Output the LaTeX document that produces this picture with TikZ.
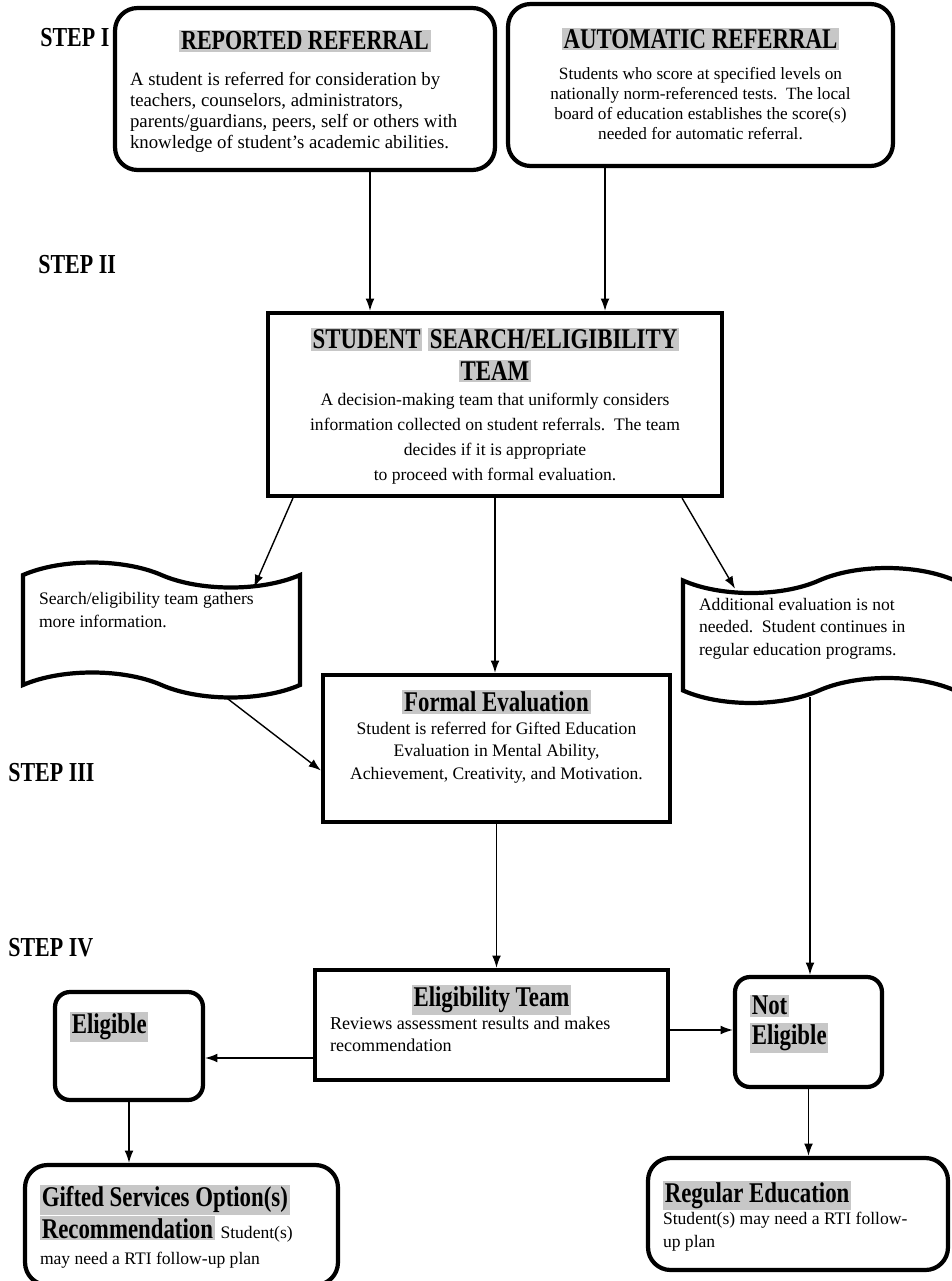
\documentclass[tikz,border=0pt]{standalone}
\usepackage{graphicx}
\usepackage{fontspec}
\setmainfont{Liberation Serif}
\usetikzlibrary{shapes.symbols,arrows.meta}

\definecolor{hlgray}{gray}{0.78}
\newcommand{\hilite}[1]{{\setlength{\fboxsep}{1pt}\colorbox{hlgray}{\scalebox{1}[1.25]{#1}}}}
\newcommand{\ttl}{\fontsize{13}{15}\selectfont\bfseries}
\newcommand{\txt}{\fontsize{10}{12.9}\selectfont\mdseries}

\begin{document}
\begin{tikzpicture}[x=0.02cm, y=-0.02cm,
	>={Latex[length=7pt,width=5pt]},
	roundbox/.style={draw, line width=2.4pt, rounded corners=0.45cm, inner sep=0.3cm},
	plainbox/.style={draw, line width=2.4pt, inner sep=0.3cm},
	wavebox/.style={draw, shape=tape, line width=2.4pt, tape bend height=0.5cm, inner sep=0.1cm},
	steplabel/.style={anchor=west, inner sep=0pt, font=\fontsize{12.5}{15}\selectfont\bfseries},
	arr/.style={->, line width=0.8pt}]

			\useasboundingbox (0,0) rectangle (951,1281);

			% Draw the step labels
			\node[steplabel] (s1) at (40, 38) {\scalebox{1}[1.25]{STEP I}};
			\node[steplabel] (s2) at (38, 265) {\scalebox{1}[1.25]{STEP II}};
			\node[steplabel] (s3) at (8, 773) {\scalebox{1}[1.25]{STEP III}};
			\node[steplabel] (s4) at (8, 948) {\scalebox{1}[1.25]{STEP IV}};

			% Draw the referral boxes
			\node[roundbox] (rep) at (305, 89) {\parbox[t][2.64cm][t]{7.0cm}{%
				\vspace*{4pt}\centering\fontsize{12.5}{15}\selectfont\bfseries\hilite{REPORTED REFERRAL}\par
				\vspace{8pt}\raggedright\fontsize{10.7}{12}\selectfont\mdseries
				A student is referred for consideration by\\
				teachers, counselors, administrators,\\
				parents/guardians, peers, self or others with\\
				knowledge of student's academic abilities.}};
			\node[roundbox] (auto) at (700.5, 85) {\parbox[t][2.64cm][t]{7.1cm}{%
				\vspace*{5pt}\centering\ttl\hilite{AUTOMATIC REFERRAL}\par
				\vspace{6pt}\fontsize{9.8}{11.5}\selectfont\mdseries
				Students who score at specified levels on\\
				nationally norm-referenced tests.\ \ The local\\
				board of education establishes the score(s)\\
				needed for automatic referral.}};

			% Draw the team box
			\node[plainbox] (search) at (495, 404.5) {\parbox[t][3.06cm][t]{8.48cm}{%
				\centering\fontsize{13}{18}\selectfont\bfseries\hilite{STUDENT} \hilite{SEARCH/ELIGIBILITY}\\
				\hilite{TEAM}\par
				\fontsize{10}{14.2}\selectfont\mdseries
				A decision-making team that uniformly considers\\
				information collected on student referrals.\ \ The team\\
				decides if it is appropriate\\
				to proceed with formal evaluation.}};

			% Draw the two side notes
			\node[wavebox, tape bend top=out and in, tape bend bottom=out and in,
				minimum width=5.54cm, minimum height=2.7cm] (more) at (161.5, 630)
				{\parbox[t][1.5cm][t]{4.9cm}{\raggedright\txt
				Search/eligibility team gathers\\
				more information.}};
			\node[wavebox, minimum width=5.44cm, minimum height=2.7cm] (notneeded) at (819, 635.5)
				{\parbox[t][1.5cm][t]{4.8cm}{\raggedright\txt
				Additional evaluation is not\\
				needed.\ \ Student continues in\\
				regular education programs.}};

			% Draw the evaluation box
			\node[plainbox] (formal) at (496.5, 748.5) {\parbox[t][2.34cm][t]{6.34cm}{%
				\centering\ttl\hilite{Formal Evaluation}\par
				\txt Student is referred for Gifted Education\\
				Evaluation in Mental Ability,\\
				Achievement, Creativity, and Motivation.}};

			% Draw the eligibility boxes
			\node[plainbox] (eligteam) at (491.5, 1025) {\parbox[t][1.6cm][t]{6.46cm}{%
				\centering\ttl\hilite{Eligibility Team}\par
				\raggedright\fontsize{10.3}{12.9}\selectfont\mdseries
				Reviews assessment results and makes\\
				recommendation}};
			\node[roundbox, rounded corners=0.3cm] (eligible) at (129, 1046) {\parbox[t][1.56cm][t]{2.36cm}{%
				\raggedright\vspace*{0.1cm}\ttl\hilite{Eligible}}};
			\node[roundbox, rounded corners=0.3cm] (noteligible) at (808.5, 1032) {\parbox[t][1.6cm][t]{2.34cm}{%
				\raggedright\vspace*{0.05cm}\fontsize{13}{17}\selectfont\bfseries
				\hilite{Not}\\
				\hilite{Eligible}}};

			% Draw the outcome boxes
			\node[roundbox] (gifted) at (181.5, 1225) {\parbox[t][1.8cm][t]{5.66cm}{%
				\raggedright\vspace*{0.1cm}\ttl\hilite{Gifted Services Option(s)}\\
				\hilite{Recommendation} {\txt Student(s)}\\
				{\txt may need a RTI follow-up plan}}};
			\node[roundbox] (regular) at (798, 1214) {\parbox[t][1.64cm][t]{5.4cm}{%
				\raggedright\vspace*{0.15cm}\ttl\hilite{Regular Education}\par
				\txt Student(s) may need a RTI follow-\\
				up plan}};

			% Draw the arrows between the boxes
			\draw[arr] ([xshift=1.3cm]rep.south) -- ([xshift=1.3cm]rep.south |- search.north);
			\draw[arr] ([xshift=-1.91cm]auto.south) -- ([xshift=-1.91cm]auto.south |- search.north);
			\draw[arr] ([xshift=0.54cm]search.south west) -- ([xshift=1.85cm,yshift=-0.28cm]more.north);
			\draw[arr] (search.south) -- (search.south |- formal.north);
			\draw[arr] ([xshift=-0.84cm]search.south east) -- ([xshift=-1.68cm,yshift=-0.2cm]notneeded.north);
			\draw[arr] ([xshift=1.3cm,yshift=-0.22cm]more.south) -- ([yshift=-0.44cm]formal.west);
			\draw[arr] (formal.south) -- (formal.south |- eligteam.north);
			\draw[arr] ([xshift=-0.18cm,yshift=-0.1cm]notneeded.south) -- ([xshift=-0.18cm]notneeded.south |- noteligible.north);
			\draw[arr] ([yshift=-0.66cm]eligteam.west) -- ([yshift=-0.66cm]eligteam.west -| eligible.east);
			\draw[arr] ([yshift=-0.1cm]eligteam.east) -- ([yshift=-0.1cm]eligteam.east -| noteligible.west);
			\draw[arr] (eligible.south) -- (eligible.south |- gifted.north);
			\draw[arr] (noteligible.south) -- (noteligible.south |- regular.north);

		\end{tikzpicture}
\end{document}
